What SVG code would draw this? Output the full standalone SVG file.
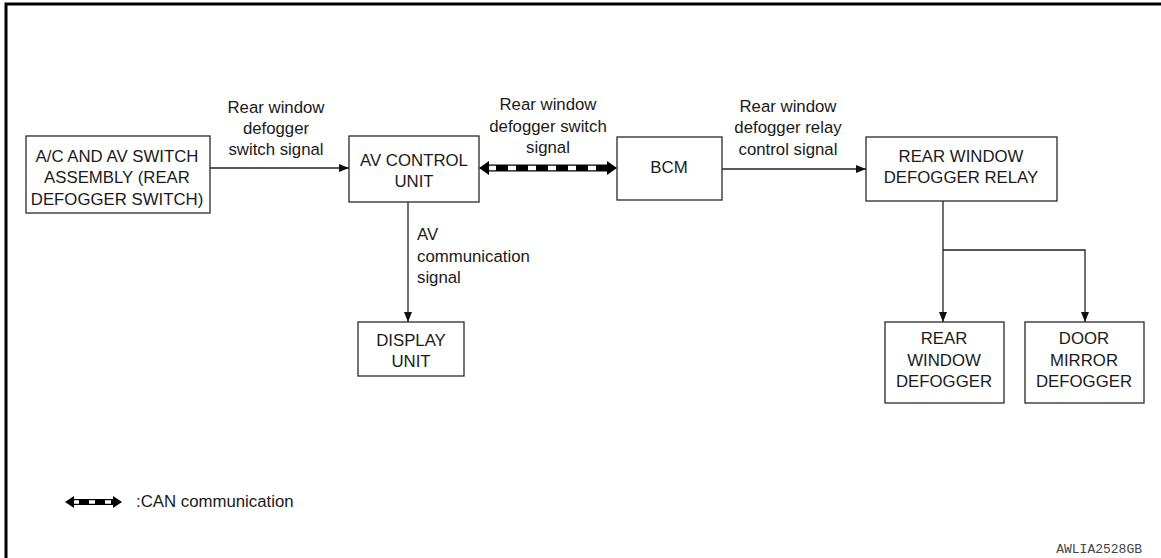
<svg xmlns="http://www.w3.org/2000/svg" width="1161" height="558" viewBox="0 0 1161 558">
<defs>
<style>
.box{fill:#fff;stroke:#2a2a2a;stroke-width:1.3}
.t{font-family:"Liberation Sans",Arial,sans-serif;font-size:16.8px;fill:#1a1a1a;text-anchor:middle}
.l{font-family:"Liberation Sans",Arial,sans-serif;font-size:16.8px;fill:#1a1a1a}
.w{fill:none;stroke:#222;stroke-width:1.3}
</style>
<marker id="ah" viewBox="0 0 10 8" refX="10" refY="4" markerWidth="10" markerHeight="8" markerUnits="userSpaceOnUse" orient="auto">
<path d="M0,0 L10,4 L0,8 Z" fill="#111"/>
</marker>
</defs>
<rect width="1161" height="558" fill="#fff"/>
<path d="M6,558 V4 H1161" fill="none" stroke="#000" stroke-width="3"/>

<g id="connectors">
<line class="w" x1="210" y1="168" x2="349" y2="168" marker-end="url(#ah)"/>
<line class="w" x1="722" y1="169" x2="866" y2="169" marker-end="url(#ah)"/>
<line class="w" x1="408" y1="202" x2="408" y2="322" marker-end="url(#ah)"/>
<polyline class="w" points="943,201 943,322" marker-end="url(#ah)"/>
<polyline class="w" points="943,250 1085,250 1085,322" marker-end="url(#ah)"/>
<g id="can">
<line x1="487" y1="168" x2="609" y2="168" stroke="#000" stroke-width="7"/>
<line x1="488" y1="168" x2="608" y2="168" stroke="#fff" stroke-width="4.6" stroke-dasharray="8 12"/>
<path d="M479,168 L489,161 L489,175 Z" fill="#000"/>
<path d="M617,168 L607,161 L607,175 Z" fill="#000"/>
</g>
</g>

<g id="lbl1">
<text class="t" x="276" y="113">Rear window</text>
<text class="t" x="276" y="134">defogger</text>
<text class="t" x="276" y="155">switch signal</text>
</g>
<g id="lbl2">
<text class="t" x="548" y="110">Rear window</text>
<text class="t" x="548" y="132">defogger switch</text>
<text class="t" x="548" y="153">signal</text>
</g>
<g id="lbl3">
<text class="t" x="788" y="112">Rear window</text>
<text class="t" x="788" y="133">defogger relay</text>
<text class="t" x="788" y="155">control signal</text>
</g>
<g id="lbl4">
<text class="l" x="417" y="240">AV</text>
<text class="l" x="417" y="262">communication</text>
<text class="l" x="417" y="283">signal</text>
</g>

<g id="ac-switch">
<rect class="box" x="26" y="136" width="184" height="77"/>
<text class="t" x="117" y="162">A/C AND AV SWITCH</text>
<text class="t" x="117" y="183">ASSEMBLY (REAR</text>
<text class="t" x="117" y="205">DEFOGGER SWITCH)</text>
</g>
<g id="av-control">
<rect class="box" x="349" y="136" width="130" height="66"/>
<text class="t" x="414" y="166">AV CONTROL</text>
<text class="t" x="414" y="187">UNIT</text>
</g>
<g id="bcm">
<rect class="box" x="617" y="137" width="105" height="63"/>
<text class="t" x="669" y="173">BCM</text>
</g>
<g id="relay">
<rect class="box" x="866" y="137" width="191" height="64"/>
<text class="t" x="961" y="162">REAR WINDOW</text>
<text class="t" x="961" y="183">DEFOGGER RELAY</text>
</g>
<g id="display">
<rect class="box" x="358" y="322" width="106" height="54"/>
<text class="t" x="411" y="346">DISPLAY</text>
<text class="t" x="411" y="367">UNIT</text>
</g>
<g id="rear-defogger">
<rect class="box" x="885" y="322" width="119" height="81"/>
<text class="t" x="944" y="344">REAR</text>
<text class="t" x="944" y="366">WINDOW</text>
<text class="t" x="944" y="387">DEFOGGER</text>
</g>
<g id="mirror-defogger">
<rect class="box" x="1025" y="322" width="119" height="81"/>
<text class="t" x="1084" y="344">DOOR</text>
<text class="t" x="1084" y="366">MIRROR</text>
<text class="t" x="1084" y="387">DEFOGGER</text>
</g>

<g id="legend">
<line x1="72" y1="502" x2="115" y2="502" stroke="#000" stroke-width="6"/>
<line x1="73" y1="502" x2="114" y2="502" stroke="#fff" stroke-width="3.4" stroke-dasharray="6 10"/>
<path d="M65,502 L74,496 L74,508 Z" fill="#000"/>
<path d="M122,502 L113,496 L113,508 Z" fill="#000"/>
<text class="l" x="136" y="507">:CAN communication</text>
</g>
<text x="1142" y="553" style="font-family:'Liberation Mono',monospace;font-size:13px;fill:#444;text-anchor:end">AWLIA2528GB</text>
</svg>
